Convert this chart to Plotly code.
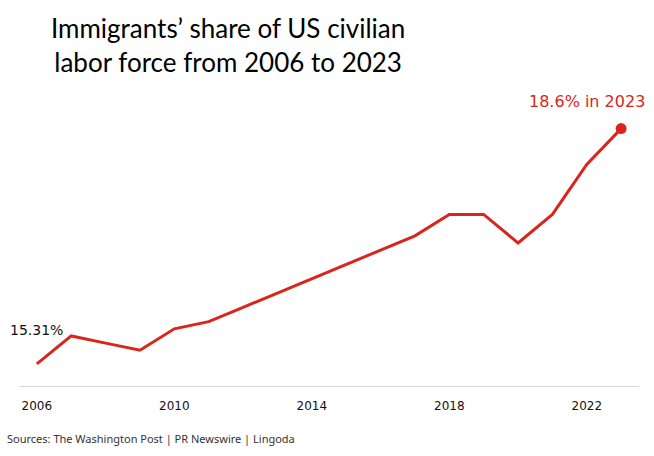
import plotly.graph_objects as go

# Immigrants' share of the US civilian labor force (%), 2006-2023
years = list(range(2006, 2024))
share = [15.31, 15.7, 15.6, 15.5, 15.8, 15.9, 16.1, 16.3, 16.5,
         16.7, 16.9, 17.1, 17.4, 17.4, 17.0, 17.4, 18.1, 18.6]
tick_years = [2006, 2010, 2014, 2018, 2022]

RED = "#d9261c"

fig = go.Figure()
fig.add_trace(go.Scatter(
    x=years, y=share, mode="lines",
    line=dict(color=RED, width=3),
    hoverinfo="skip", showlegend=False,
))
# end marker
fig.add_trace(go.Scatter(
    x=[years[-1]], y=[share[-1]], mode="markers",
    marker=dict(color=RED, size=11),
    hoverinfo="skip", showlegend=False,
))

fig.add_annotation(x=years[0], y=share[0], text=f"{share[0]:.2f}%",
                   showarrow=False, xanchor="center", yanchor="bottom", yshift=24,
                   font=dict(family="DejaVu Sans", size=14, color="#111111"))
fig.add_annotation(x=years[-1], y=share[-1], text=f"{share[-1]:.1f}% in {years[-1]}",
                   showarrow=False, xanchor="right", xshift=26, yanchor="bottom", yshift=16,
                   font=dict(family="DejaVu Sans", size=16, color=RED))

# title block
fig.add_annotation(xref="paper", yref="paper", x=0.337, y=1.192,
                   xanchor="center", yanchor="middle", showarrow=False, align="center",
                   text="Immigrants’ share of US civilian<br>labor force from 2006 to 2023",
                   font=dict(family="Lato", size=26, color="#000000"))

fig.add_annotation(xref="paper", yref="paper", x=-0.023, y=-0.185,
                   xanchor="left", yanchor="middle", showarrow=False,
                   text="Sources: The Washington Post | PR Newswire | Lingoda",
                   font=dict(family="Noto Sans", size=11, color="#333333"))

fig.update_xaxes(range=[2005.48, 2023.52], tickvals=tick_years,
                 showgrid=False, zeroline=False,
                 showline=True, linecolor="#d9d9d9", linewidth=1,
                 ticks="outside", ticklen=9, tickcolor="rgba(0,0,0,0)",
                 tickfont=dict(family="DejaVu Sans", size=12, color="#111111"))
fig.update_yaxes(range=[15.0, 19.0], visible=False)

fig.update_layout(
    width=654, height=456,
    margin=dict(l=19, r=15, t=100, b=70),
    plot_bgcolor="white", paper_bgcolor="white",
)

fig.write_html("out.html", config={"displayModeBar": False},
               post_script="document.body.style.margin='0';")
